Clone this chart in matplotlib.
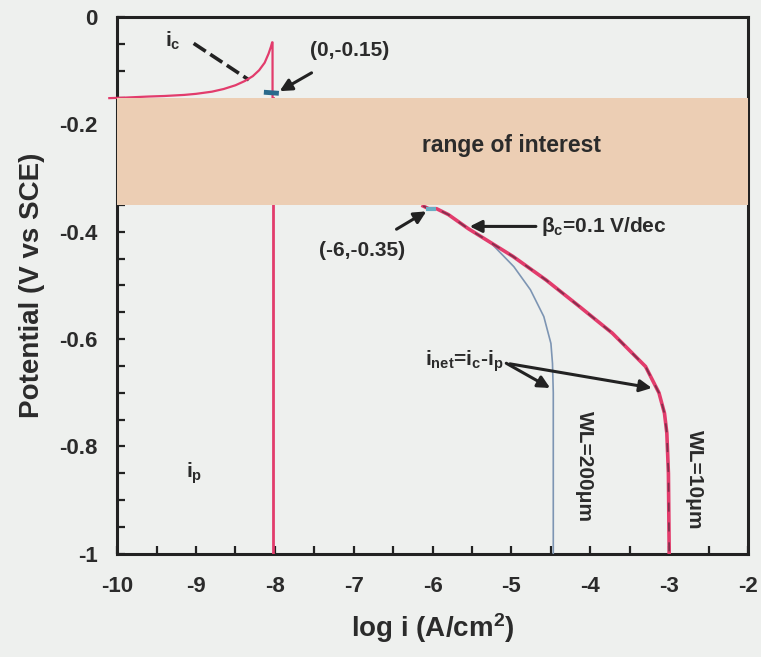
import matplotlib
matplotlib.use("Agg")
import matplotlib.pyplot as plt
from matplotlib.ticker import MultipleLocator

plt.rcParams['font.family'] = ['Liberation Sans', 'DejaVu Sans']
plt.rcParams['font.weight'] = 'bold'
plt.rcParams['axes.labelweight'] = 'bold'
plt.rcParams['mathtext.fontset'] = 'custom'
plt.rcParams['mathtext.rm'] = 'Liberation Sans:bold'
plt.rcParams['mathtext.it'] = 'Liberation Sans:bold'
plt.rcParams['mathtext.bf'] = 'Liberation Sans:bold'

# i_c branch above the band
ic_x = [-10.1, -9.9, -9.6, -9.4, -9.15, -9.0, -8.8, -8.65, -8.5, -8.38, -8.28, -8.2, -8.13, -8.08, -8.05, -8.035, -8.03, -8.03]
ic_y = [-0.151, -0.150, -0.148, -0.147, -0.145, -0.143, -0.139, -0.134, -0.127, -0.119, -0.110, -0.099, -0.085, -0.068, -0.055, -0.047, -0.047, -0.15]

# passive current i_p
ip_x = [-8.02, -8.02]
ip_y = [-0.15, -1.0]

# net current, WL = 10 um (red, with dashed overlay)
wl10_x = [-6.12, -6.05, -5.95, -5.8, -5.55, -4.98, -4.56, -4.14, -3.72, -3.30, -3.13, -3.06, -3.03, -3.01, -3.0]
wl10_y = [-0.352, -0.357, -0.357, -0.368, -0.394, -0.446, -0.49, -0.539, -0.589, -0.651, -0.70, -0.738, -0.775, -0.85, -1.0]

# net current, WL = 200 um (thin blue)
wl200_x = [-6.12, -6.05, -5.95, -5.8, -5.55, -5.26, -4.97, -4.76, -4.59, -4.50, -4.48, -4.47, -4.47]
wl200_y = [-0.352, -0.357, -0.357, -0.368, -0.394, -0.421, -0.465, -0.508, -0.558, -0.608, -0.645, -0.70, -1.0]

# small markers at the two corner points
cap1_x = [-8.14, -7.95]
cap1_y = [-0.140, -0.142]
cap2_x = [-6.08, -5.96]
cap2_y = [-0.357, -0.357]

band_lo, band_hi = -0.35, -0.15

bg = '#eef0ee'
red = '#e23c6c'
txt = '#2b2b2b'

fig = plt.figure(figsize=(7.61, 6.57), dpi=100, facecolor=bg)
ax = fig.add_axes([0.154, 0.157, 0.829, 0.817], facecolor=bg)

ax.plot(ic_x, ic_y, color=red, lw=1.6, zorder=3, clip_on=False)
ax.plot(ip_x, ip_y, color=red, lw=2.0, zorder=3)
ax.plot(wl200_x, wl200_y, color='#7d95b3', lw=1.2, zorder=3)
ax.plot(wl10_x, wl10_y, color=red, lw=2.6, zorder=4)
ax.plot(wl10_x, wl10_y, color='#5b2a40', lw=1.3, ls=(0, (5, 6)), alpha=0.7, zorder=5)
ax.plot(cap1_x, cap1_y, color='#2a6a8c', lw=3.5, zorder=6, solid_capstyle='butt')
ax.plot(cap2_x, cap2_y, color='#6aaec4', lw=3.0, zorder=6, solid_capstyle='butt')

ax.axhspan(band_lo, band_hi, color='#ecceb4', zorder=7, lw=0)
ax.text(-5.0, -0.24, 'range of interest', fontsize=16.5, color=txt, ha='center', va='center', zorder=8)

arrow = dict(arrowstyle='-|>', color='#222222', lw=2.2, mutation_scale=18)
ax.annotate('(0,-0.15)', xy=(-7.94, -0.138), xytext=(-7.05, -0.063), fontsize=15, color=txt,
            ha='center', va='center', arrowprops=dict(arrow, shrinkA=14, shrinkB=0), zorder=9)
ax.annotate('(-6,-0.35)', xy=(-6.08, -0.362), xytext=(-6.9, -0.434), fontsize=15, color=txt,
            ha='center', va='center', arrowprops=dict(arrow, shrinkA=12, shrinkB=0), zorder=9)
ax.annotate(r'$\beta_c$=0.1 V/dec', xy=(-5.53, -0.39), xytext=(-4.62, -0.39), fontsize=15,
            color=txt, ha='left', va='center', arrowprops=dict(arrow, shrinkA=2, shrinkB=0), zorder=9)
ax.annotate(r'i$_{net}$=i$_c$-i$_p$', xy=(-4.51, -0.691), xytext=(-5.6, -0.642),
            fontsize=15, color=txt, ha='center', va='center',
            arrowprops=dict(arrow, shrinkA=0, shrinkB=0, relpos=(1.0, 0.5)), zorder=9)
ax.annotate('', xy=(-3.22, -0.691), xytext=(-5.02, -0.646),
            arrowprops=dict(arrow, shrinkA=0, shrinkB=0), zorder=9)
ax.text(-9.3, -0.045, r'i$_c$', fontsize=15, color=txt, ha='center', va='center')
ax.plot([-9.03, -8.33], [-0.049, -0.117], color='#222222', lw=2.6, ls=(0, (4, 1.5)))
ax.text(-9.03, -0.85, r'i$_p$', fontsize=15, color=txt, ha='center', va='center')
ax.text(-4.08, -0.837, 'WL=200\u03bcm', fontsize=15, color=txt, rotation=270,
        ha='center', va='center')
ax.text(-2.68, -0.862, 'WL=10\u03bcm', fontsize=15, color=txt, rotation=270,
        ha='center', va='center')

ax.set_xlim(-10, -2)
ax.set_ylim(-1, 0)
ax.xaxis.set_minor_locator(MultipleLocator(0.5))
ax.yaxis.set_minor_locator(MultipleLocator(0.05))
ax.set_xticks(range(-10, -1))
ax.set_xticklabels([str(v) for v in range(-10, -1)])
ax.set_yticks([0, -0.2, -0.4, -0.6, -0.8, -1])
ax.set_yticklabels(['0', '-0.2', '-0.4', '-0.6', '-0.8', '-1'])
ax.tick_params(which='both', direction='in', length=6, width=1.6, colors='#222222',
               labelsize=16, labelcolor=txt)
ax.tick_params(axis='y', pad=14)
ax.tick_params(axis='x', pad=16)
for s in ax.spines.values():
    s.set_linewidth(2.2)
    s.set_color('#222222')

ax.set_xlabel(r'log i (A/cm$^2$)', fontsize=20, color=txt, labelpad=10)
ax.set_ylabel('Potential (V vs SCE)', fontsize=20, color=txt, labelpad=10)

fig.savefig('out.png', dpi=100, facecolor=bg)
